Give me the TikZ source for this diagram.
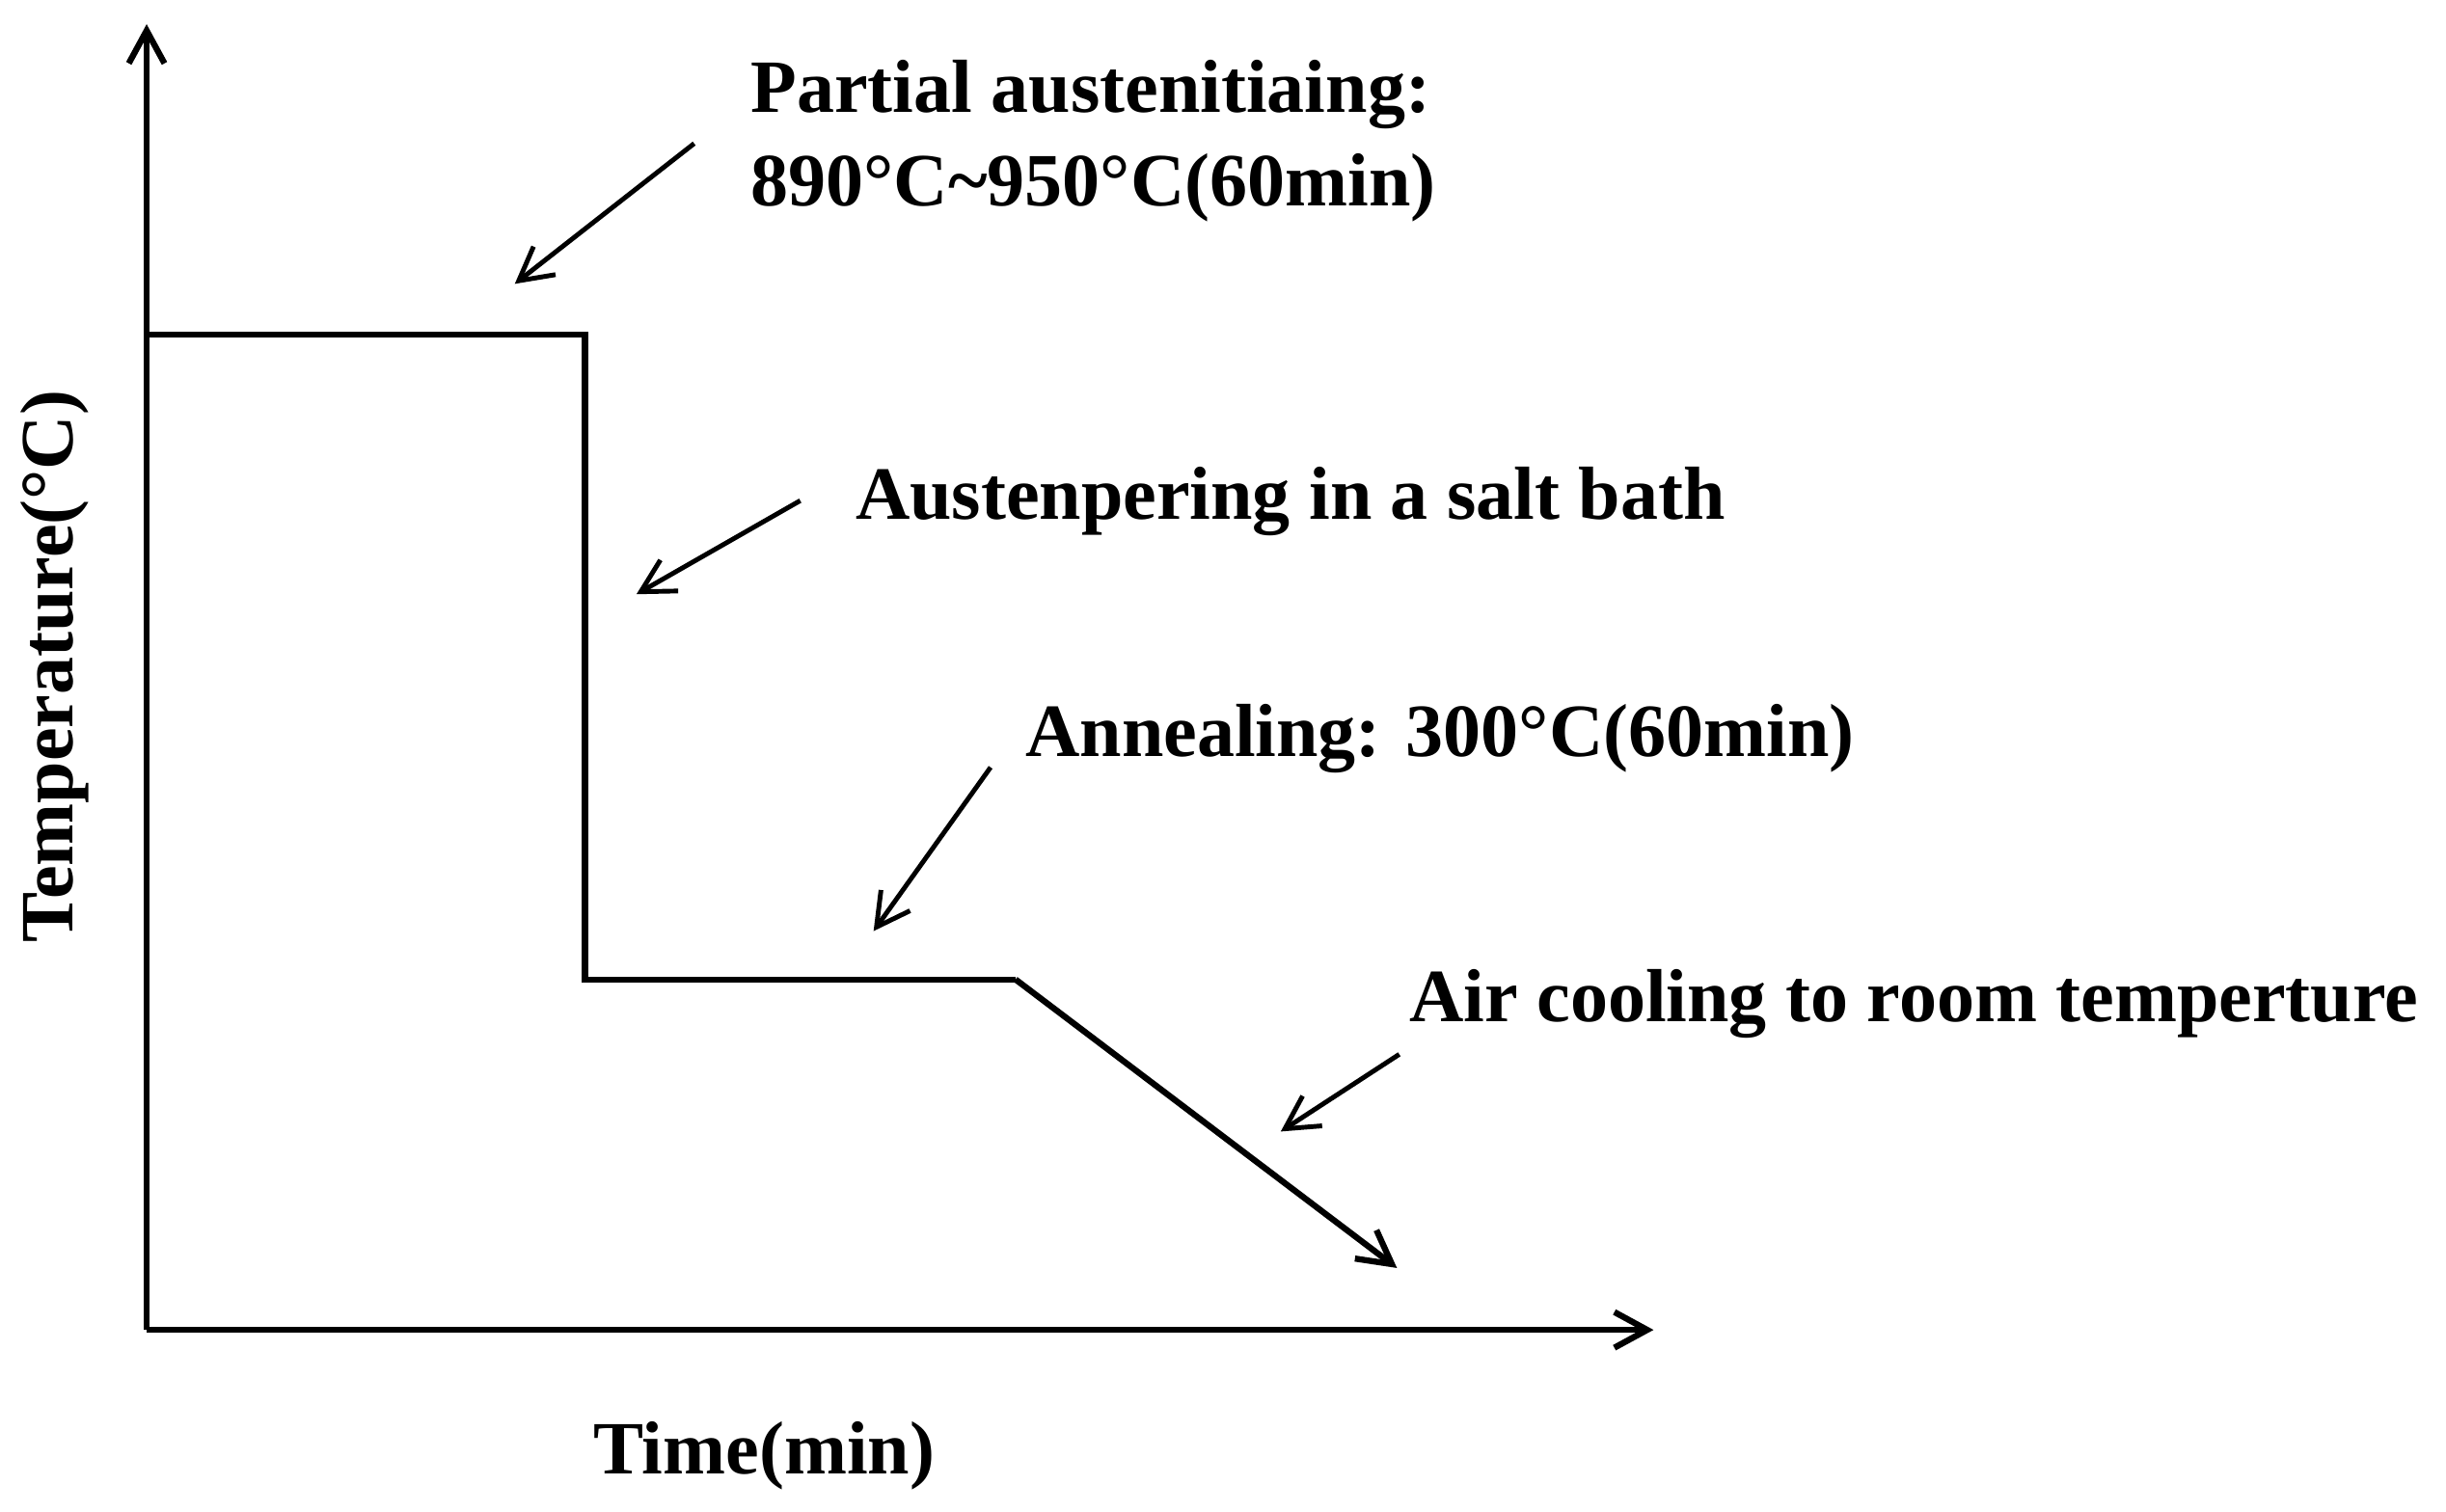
\documentclass[tikz,border=0pt]{standalone}
\usepackage{fontspec}
\setmainfont{Liberation Serif}
\usetikzlibrary{arrows.meta}
\begin{document}
\begin{tikzpicture}[x=0.016173cm,y=-0.016173cm,
  tip/.style={-{Straight Barb[length=0.34cm,width=0.37cm]}},
  axisline/.style={line width=1.8pt,tip},
  curveline/.style={line width=1.8pt,line join=miter},
  pointer/.style={line width=1.4pt,tip},
  lbl/.style={inner sep=0pt,anchor=base west,font=\bfseries\fontsize{22.2pt}{27pt}\selectfont}]
\useasboundingbox (0,0) rectangle (1568,969);
% axes
\coordinate (O) at (94,852.7);
\coordinate (ytip) at (94,15.5);
\coordinate (xtip) at (1060,852.7);
\draw[axisline] (O) -- (ytip);
\draw[axisline] (O) -- (xtip);
% process curve
\coordinate (c1) at (94,214.5);
\coordinate (c2) at (375,214.5);
\coordinate (c3) at (375,628);
\coordinate (c4) at (651,628);
\coordinate (c5) at (895.5,813);
\draw[curveline] (c1) -- (c2) -- (c3) -- (c4);
\draw[curveline,tip] (c4) -- (c5);
% labels
\node[lbl] (t1a) at (481,72) {Partial austenitiaing:};
\node[lbl] (t1b) at (481,132) {890°C\textasciitilde950°C(60min)};
\node[lbl] (t2) at (548,333) {Austenpering in a salt bath};
\node[lbl] (t3) at (657,485) {Annealing: 300°C(60min)};
\node[lbl] (t4) at (903,655) {Air cooling to room temperture};
\node[lbl] (xl) at (380,945) {Time(min)};
\node[lbl,rotate=90] (yl) at (46.4,605) {Temperature(°C)};
% pointers
\coordinate (a1s) at (445,92);  \coordinate (a1e) at (330,182);
\coordinate (a2s) at (513,321); \coordinate (a2e) at (408,381);
\coordinate (a3s) at (635,492); \coordinate (a3e) at (560,597);
\coordinate (a4s) at (897,676); \coordinate (a4e) at (821,725.5);
\draw[pointer] (a1s) -- (a1e);
\draw[pointer] (a2s) -- (a2e);
\draw[pointer] (a3s) -- (a3e);
\draw[pointer] (a4s) -- (a4e);
\end{tikzpicture}
\end{document}
